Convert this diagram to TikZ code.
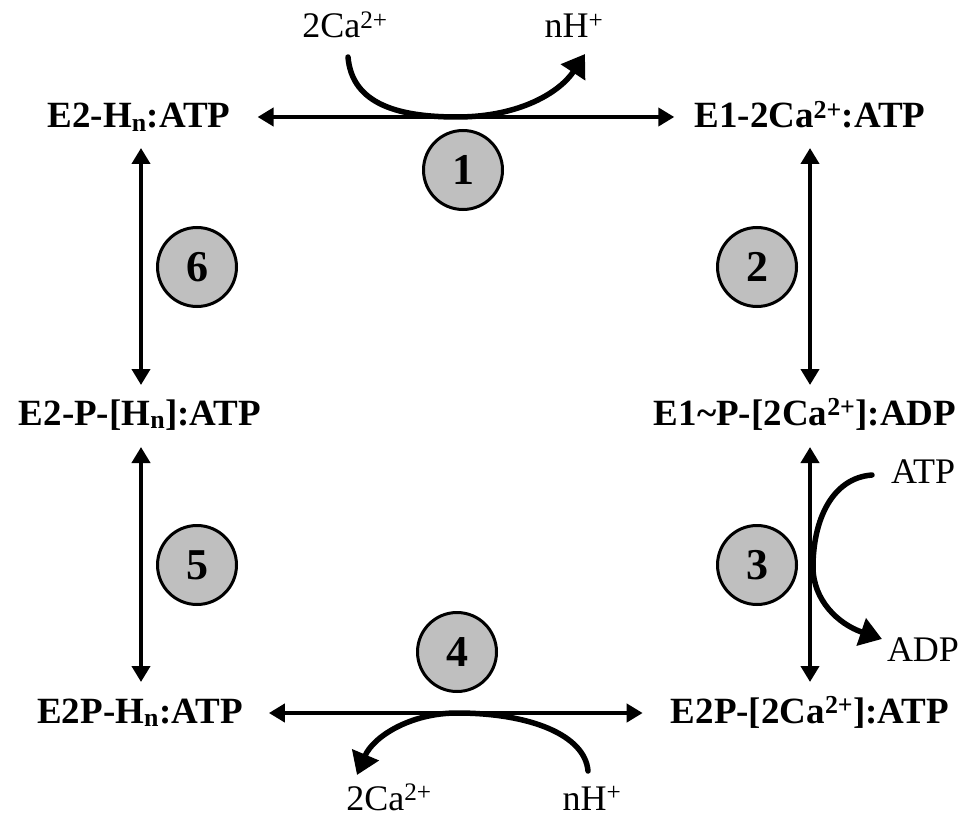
\documentclass[tikz,border=0pt]{standalone}
\usepackage{fontspec}
\setmainfont{Liberation Serif}
\usetikzlibrary{arrows.meta,calc}
\begin{document}
\begin{tikzpicture}[x=1pt,y=-1pt,
  lab/.style={font=\fontsize{37}{42}\selectfont\bfseries, anchor=base, inner sep=0pt},
  ion/.style={font=\fontsize{36}{40}\selectfont, anchor=base, inner sep=0pt},
  num/.style={circle, draw, line width=3pt, fill=black!25, minimum size=79pt, inner sep=0pt, font=\fontsize{44}{48}\selectfont\bfseries},
  rx/.style={line width=4pt, {Triangle[length=16pt,width=18pt]}-{Triangle[length=16pt,width=18pt]}},
  flow/.style={line width=5.5pt, line cap=round, -{Triangle[length=22pt,width=28pt]}}
]
\useasboundingbox (0,0) rectangle (968,818);

% state labels
\node[lab] (A) at (139,128) {E2-H\textsubscript{n}:ATP};
\node[lab] (B) at (810,128) {E1-2Ca\textsuperscript{2+}:ATP};
\node[lab] (C) at (805,425) {E1\textasciitilde P-[2Ca\textsuperscript{2+}]:ADP};
\node[lab] (D) at (810,723) {E2P-[2Ca\textsuperscript{2+}]:ATP};
\node[lab] (E) at (140,723) {E2P-H\textsubscript{n}:ATP};
\node[lab] (F) at (140,425) {E2-P-[H\textsubscript{n}]:ATP};

% step numbers
\node[num] (n1) at (463,170) {1};
\node[num] (n2) at (757,267) {2};
\node[num] (n3) at (757,565) {3};
\node[num] (n4) at (457,652) {4};
\node[num] (n5) at (197,565) {5};
\node[num] (n6) at (197,267) {6};

% reaction arrows
\draw[rx] ($(A.base east)+(27,-11)$) -- ($(B.base west)+(-20,-11)$);
\draw[rx] ($(B.base)+(0,20)$) -- ($(C.base)+(5,-40)$);
\draw[rx] ($(C.base)+(5,22)$) -- ($(D.base)+(0,-41)$);
\draw[rx] ($(E.base east)+(26,-10)$) -- ($(D.base west)+(-28,-10)$);
\draw[rx] ($(E.base)+(1,-41)$) -- ($(F.base)+(1,22)$);
\draw[rx] ($(F.base)+(1,-40)$) -- ($(A.base)+(2,20)$);

% ions
\node[ion] (ca1) at (345,38) {2Ca\textsuperscript{2+}};
\node[ion] (h1) at (574,38) {nH\textsuperscript{+}};
\node[ion] (atp) at (923,483) {ATP};
\node[ion] (adp) at (923,661) {ADP};
\node[ion] (ca2) at (389,810) {2Ca\textsuperscript{2+}};
\node[ion] (h2) at (592,810) {nH\textsuperscript{+}};

\coordinate (t1) at (585,54);
\coordinate (t2) at (882,639);
\coordinate (t3) at (357,775);
\coordinate (s2) at (872,475);
\coordinate (s1) at (348,57);
\coordinate (s3) at (588,771);

% exchange curves
\draw[flow] (s1) .. controls (352,105) and (400,117) .. (457,117)
  .. controls (520,117) and (560,92) .. (t1);
\draw[flow] (s2) .. controls (832,478) and (813,520) .. (813,567)
  .. controls (813,600) and (838,624) .. (t2);
\draw[flow] (s3) .. controls (585,735) and (530,713) .. (457,713)
  .. controls (410,713) and (373,737) .. (t3);
\end{tikzpicture}
\end{document}
